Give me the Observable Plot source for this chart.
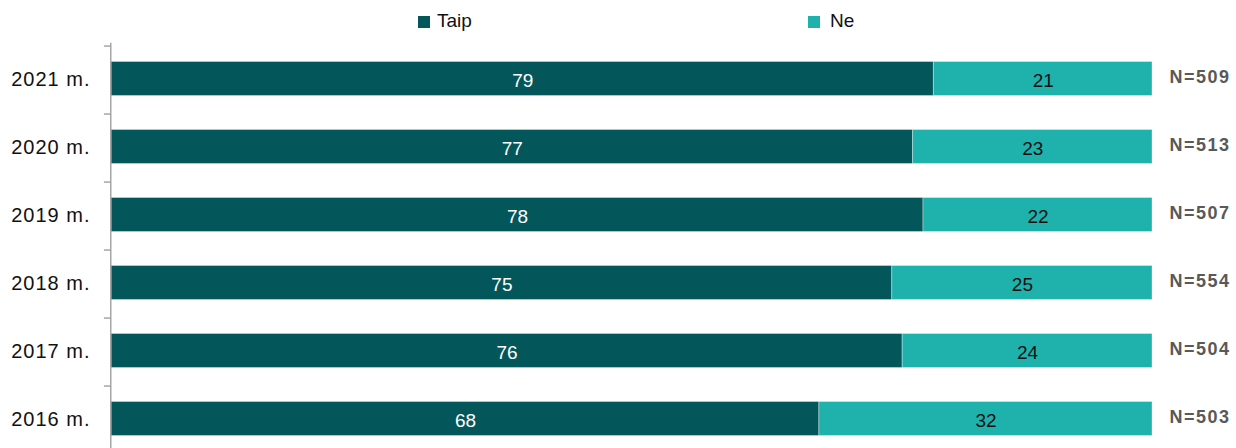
<!DOCTYPE html>
<html>
<head>
<meta charset="utf-8">
<script src="https://cdn.jsdelivr.net/npm/d3@7"></script>
<script src="https://cdn.jsdelivr.net/npm/@observablehq/plot@0.6"></script>
<style>
  html, body { margin: 0; padding: 0; background: #fff; }
  body { width: 1236px; height: 448px; overflow: hidden; font-family: "Liberation Sans", Arial, sans-serif; }
  #legend { position: relative; height: 38px; width: 1236px; font-size: 19px; color: #111; }
  .sw { position: absolute; top: 16px; width: 12px; height: 12px; }
  .lab { position: absolute; top: 11px; line-height: 20px; }
  #chart svg { display: block; }
</style>
</head>
<body>
<div id="legend"></div>
<div id="chart"></div>
<script>
const years = ["2021 m.", "2020 m.", "2019 m.", "2018 m.", "2017 m.", "2016 m."];
const taip = [79, 77, 78, 75, 76, 68];
const ne = [21, 23, 22, 25, 24, 32];
const nLabels = ["N=509", "N=513", "N=507", "N=554", "N=504", "N=503"];
const answers = ["Taip", "Ne"];
const colors = ["#03565A", "#1FB2AD"];

const data = [];
years.forEach((y, i) => {
  data.push({year: y, answer: "Taip", value: taip[i]});
  data.push({year: y, answer: "Ne", value: ne[i]});
});

// legend
const legend = document.getElementById("legend");
const legendPos = [[418, 437], [808, 830]];
answers.forEach((a, i) => {
  const sw = document.createElement("div");
  sw.className = "sw"; sw.style.left = legendPos[i][0] + "px"; sw.style.background = colors[i];
  const lb = document.createElement("div");
  lb.className = "lab"; lb.style.left = legendPos[i][1] + "px"; lb.textContent = a;
  legend.appendChild(sw); legend.appendChild(lb);
});

const top0 = 4.75, step = 68.9;
const bottom0 = top0 + step * years.length;

const stackOpts = {x: "value", y: "year", z: "answer", order: answers};

const plot = Plot.plot({
  width: 1236,
  height: 410,
  marginLeft: 111,
  marginRight: 84,
  marginTop: top0,
  marginBottom: 0,
  style: {fontFamily: "'Liberation Sans', Arial, sans-serif", background: "#fff"},
  x: {domain: [0, 100], axis: null},
  y: {domain: years, range: [top0, bottom0], paddingInner: 0.5, paddingOuter: 0.25, label: null},
  color: {domain: answers, range: colors},
  marks: [
    Plot.barX(data, Plot.stackX({...stackOpts, fill: "answer", stroke: "#ffffff", strokeOpacity: 0.35, strokeWidth: 1, dy: -0.5})),
    Plot.text(data, Plot.filter(d => d.answer === "Taip",
      Plot.stackX({...stackOpts, text: "value", fill: "#ffffff", fontSize: 19, dy: 1.5}))),
    Plot.text(data, Plot.filter(d => d.answer === "Ne",
      Plot.stackX({...stackOpts, text: "value", fill: "#111111", fontSize: 19, dy: 1.5}))),
    Plot.text(years, {x: () => 100, y: d => d, text: (d, i) => nLabels[i], dx: 17, textAnchor: "start",
      fontWeight: "bold", fill: "#595959", fontSize: 18, dy: -2, className: "nlab"}),
    Plot.axisY({tickSize: 0, tickPadding: 21, fontSize: 20, fill: "#111", label: null}),
    Plot.ruleX([0], {stroke: "#a6a6a6", strokeWidth: 1.5, dx: -0.75}),
    Plot.ruleY(years, {y: d => d, x1: () => -0.68, x2: () => 0, dy: -step / 2 + 1, stroke: "#a6a6a6", strokeWidth: 1.5, clip: false})
  ]
});
document.getElementById("chart").appendChild(plot);
d3.select(plot).selectAll("g[aria-label='y-axis tick label'] text").style("letter-spacing", "1px");
d3.select(plot).selectAll(".nlab text").style("letter-spacing", "1.5px");
</script>
</body>
</html>
